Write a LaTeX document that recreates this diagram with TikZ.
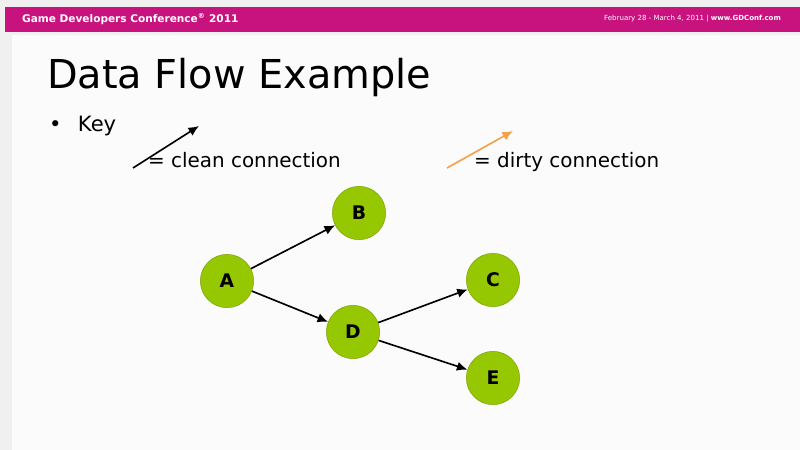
\documentclass[tikz,border=0pt]{standalone}
\usepackage{fontspec}
\usetikzlibrary{arrows.meta}
\setmainfont{DejaVu Sans}
\definecolor{gdcpink}{HTML}{C8127E}
\definecolor{nodegreen}{HTML}{95C800}
\definecolor{dirty}{HTML}{F5A04A}
\begin{document}
\begin{tikzpicture}[x=0.03cm,y=-0.03cm,
    vertex/.style={circle,fill=nodegreen,draw=nodegreen!80!black,minimum size=1.6cm,inner sep=0pt,font=\fontsize{16}{18}\selectfont\bfseries},
    conn/.style={-{Latex[length=9pt,width=8pt]},line width=1.4pt},
    keytext/.style={anchor=west,font=\fontsize{17}{20}\selectfont}]
    % background and header
    \useasboundingbox (0,0) rectangle (800,450);
    \fill[gray!12] (0,0) rectangle (800,450);
    \fill[white!97!gray] (12,35) rectangle (800,450);
    \fill[gdcpink] (5,7) rectangle (800,32);
    \node[anchor=west,text=white,font=\fontsize{9}{10}\selectfont\bfseries] (conf) at (18,19) {Game Developers Conference\textsuperscript{®} 2011};
    \node[anchor=east,text=white,font=\fontsize{6}{7}\selectfont] (date) at (785,19) {February 28 - March 4, 2011 | \textbf{www.GDConf.com}};

    % title and key
    \node[anchor=west,font=\fontsize{34}{40}\selectfont] (title) at (43,78) {Data Flow Example};
    \node[anchor=west,font=\fontsize{18}{20}\selectfont] (key) at (45,126) {•\hspace{14pt}Key};
    \coordinate (k1s) at (133,168);
    \coordinate (k1e) at (199,126);
    \coordinate (k2s) at (447,168);
    \coordinate (k2e) at (513,131);
    \draw[conn] (k1s) -- (k1e);
    \draw[conn,dirty] (k2s) -- (k2e);
    \node[keytext] (clean) at (144,160) {= clean connection};
    \node[keytext] (dirtytext) at (470,162) {= dirty connection};

    % graph
    \node[vertex] (A) at (227,281) {A};
    \node[vertex] (B) at (359,213) {B};
    \node[vertex] (C) at (493,280) {C};
    \node[vertex] (D) at (353,332) {D};
    \node[vertex] (E) at (493,378) {E};
    \draw[conn] (A) -- (B);
    \draw[conn] (A) -- (D);
    \draw[conn] (D) -- (C);
    \draw[conn] (D) -- (E);
\end{tikzpicture}
\end{document}
